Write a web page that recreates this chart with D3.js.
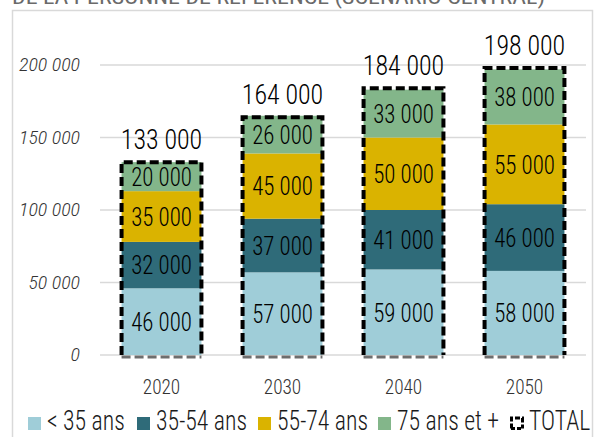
<!DOCTYPE html>
<html><head><meta charset="utf-8">
<script src="https://cdn.jsdelivr.net/npm/d3@7"></script>
<style>
html,body{margin:0;padding:0;background:#fff;}
svg{display:block;}
</style>
</head><body>
<svg id="chart" width="598" height="437"></svg>
<script>
const years = ["2020","2030","2040","2050"];
const seriesNames = ["< 35 ans","35-54 ans","55-74 ans","75 ans et +"];
const under35 = [46000,57000,59000,58000];
const age35_54 = [32000,37000,41000,46000];
const age55_74 = [35000,45000,50000,55000];
const age75plus = [20000,26000,33000,38000];
const totals = [133000,164000,184000,198000];
const yTicks = [0,50000,100000,150000,200000];
const colors = ["#9fcdd8","#2f6b79","#dab300","#83b68a"];
const titleText = "DE LA PERSONNE DE RÉFÉRENCE (SCÉNARIO CENTRAL)";

const FONT = "'Roboto Condensed',Roboto,sans-serif";
const fmt = v => d3.format(",")(v).replace(/,/g," ");

const svg = d3.select("#chart");
svg.style("font-family", FONT).style("font-weight", 300);

function sText(g, x, y, str, size, anchor, sx, fill){
  return g.append("text")
    .attr("transform",`translate(${x},${y}) scale(${sx},1)`)
    .attr("text-anchor",anchor).attr("font-size",size)
    .attr("fill",fill).text(str);
}

// cut-off title at top
svg.append("text").attr("x",12).attr("y",4).attr("font-size",20).attr("font-weight",400)
  .attr("fill","#6a6a6a").attr("textLength",533).attr("lengthAdjust","spacingAndGlyphs")
  .text(titleText);

// panel border
svg.append("rect").attr("x",12.5).attr("y",10.5).attr("width",580).attr("height",440)
  .attr("fill","none").attr("stroke","#d9d9d9").attr("stroke-width",1.5);

const x = d3.scaleBand().domain(years).range([101,585]).paddingInner(0.34).paddingOuter(0.17);
const y = d3.scaleLinear().domain([0,200000]).range([355,65]);

// gridlines
svg.append("g").selectAll("line").data(yTicks).join("line")
  .attr("x1",100).attr("x2",586)
  .attr("y1",d=>y(d)).attr("y2",d=>y(d))
  .attr("stroke","#d9d9d9").attr("stroke-width",1.3);

// y axis labels
const yAxis = d3.axisLeft(y).tickValues(yTicks).tickFormat(fmt).tickSize(0).tickPadding(0);
const gy = svg.append("g").attr("transform","translate(80,0)").call(yAxis);
gy.select(".domain").remove();
gy.selectAll("text").attr("font-size",18.5).attr("font-style","italic").attr("fill","#333")
  .attr("font-family",FONT).attr("font-weight",300).attr("transform","scale(1.08,1)");

// x axis labels
const xAxis = d3.axisBottom(x).tickSize(0).tickPadding(0);
const gx = svg.append("g").attr("transform","translate(0,379)").call(xAxis);
gx.select(".domain").remove();
gx.selectAll("text").attr("font-size",20.5).attr("fill","#333").attr("font-family",FONT)
  .attr("font-weight",300).attr("transform","scale(0.94,1)");

// stacked data
const table = years.map((yr,i)=>({year:yr, s0:under35[i], s1:age35_54[i], s2:age55_74[i], s3:age75plus[i], total:totals[i]}));
const stack = d3.stack().keys(["s0","s1","s2","s3"]);
const stacked = stack(table);

const gBars = svg.append("g");
stacked.forEach((layer,li)=>{
  gBars.selectAll(null).data(layer).join("rect")
    .attr("x",d=>x(d.data.year)).attr("width",x.bandwidth())
    .attr("y",d=>y(d[1])).attr("height",d=>y(d[0])-y(d[1]))
    .attr("fill",colors[li]);
  layer.forEach(d=>{
    sText(gBars, x(d.data.year)+x.bandwidth()/2, (y(d[0])+y(d[1]))/2, fmt(d[1]-d[0]), 26, "middle", 0.88, "#000")
      .attr("dy","0.36em");
  });
});

// total dashed outline
const gTot = svg.append("g");
table.forEach(d=>{
  const x0 = x(d.year), x1 = x(d.year)+x.bandwidth(), yt = y(d.total), yb = y(0);
  gTot.append("path")
    .attr("d",`M${x0},${yb}V${yt}H${x1}V${yb}`)
    .attr("fill","none").attr("stroke","#000").attr("stroke-width",4)
    .attr("stroke-dasharray","9,4");
  gTot.append("line").attr("x1",x0).attr("x2",x1).attr("y1",yb+2).attr("y2",yb+2)
    .attr("stroke","#6e6e6e").attr("stroke-width",3).attr("stroke-dasharray","9,4");
  sText(gTot, (x0+x1)/2, yt-13, fmt(d.total), 27, "middle", 0.96, "#000");
});

// legend
const legendItems = seriesNames.map((n,i)=>({name:n,color:colors[i]})).concat([{name:"TOTAL",color:null}]);
const legendX = [28,137,258,378,510];
const lg = svg.append("g");
legendItems.forEach((it,i)=>{
  const lx = legendX[i], ly = 423.5;
  if(it.color){
    lg.append("rect").attr("x",lx).attr("y",ly-6.5).attr("width",13).attr("height",13).attr("fill",it.color);
  } else {
    lg.append("path").attr("d",`M${lx+1.5},${ly+5}V${ly-5.5}H${lx+12.5}V${ly+5}`)
      .attr("fill","none").attr("stroke","#000").attr("stroke-width",3).attr("stroke-dasharray","5,2");
    lg.append("line").attr("x1",lx+1).attr("x2",lx+13).attr("y1",ly+5).attr("y2",ly+5)
      .attr("stroke","#000").attr("stroke-width",3).attr("stroke-dasharray","4,2");
  }
  sText(lg, lx+19, 430, it.name, 28, "start", 0.85, "#1a1a1a");
});
</script>
</body></html>
